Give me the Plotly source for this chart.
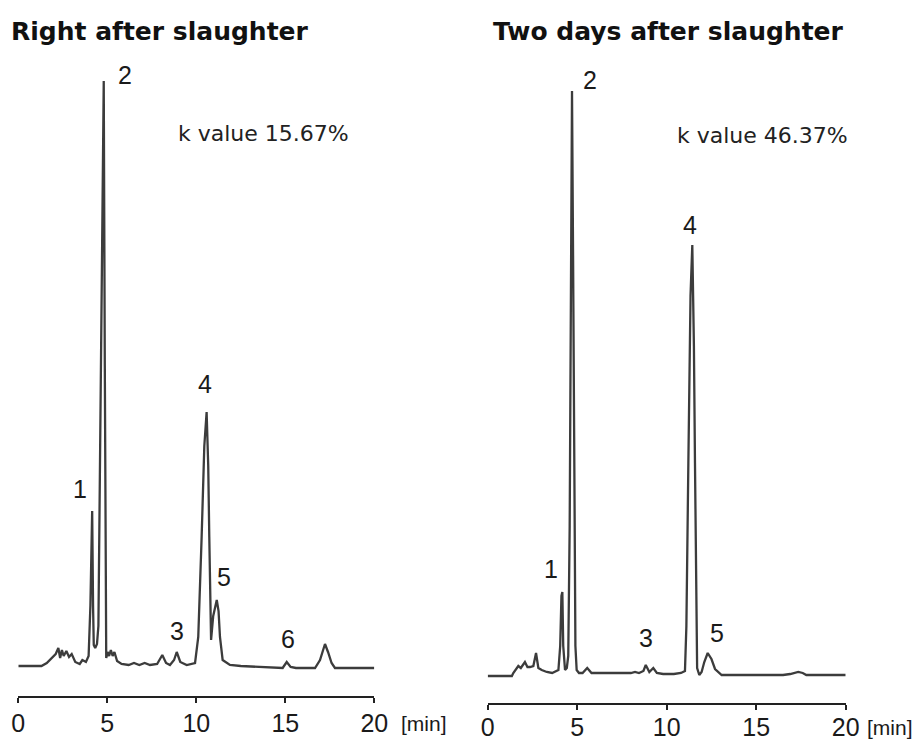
import plotly.graph_objects as go

W, H = 920, 740

# ---------------- data ----------------
# Left chromatogram: "Right after slaughter" (time in min, detector signal in arbitrary units)
left_time = [0.0, 1.3, 1.6, 1.9, 2.1, 2.25, 2.35, 2.45, 2.55, 2.7, 2.85, 3.0, 3.2, 3.45, 3.6, 3.8,
             3.95, 4.05, 4.12, 4.15, 4.2, 4.24, 4.32, 4.42, 4.5, 4.58, 4.68, 4.75, 4.8, 4.86, 4.9, 4.94,
             5.02, 5.1, 5.2, 5.3, 5.4, 5.55, 5.8, 6.2, 6.5, 6.8, 7.1, 7.4, 7.8, 8.09, 8.3, 8.52,
             8.75, 8.9, 9.1, 9.46, 9.93, 10.11, 10.3, 10.45, 10.58, 10.67, 10.73, 10.81, 10.83,
             10.95, 11.15, 11.25, 11.33, 11.48, 11.89, 12.5, 13.5, 14.5, 14.85, 15.08, 15.3, 15.6,
             16.67, 16.95, 17.1, 17.23, 17.4, 17.6, 17.79, 18.5, 20.0]
left_signal = [0, 0, 3, 8, 12, 18, 8, 16, 10, 15, 9, 12, 4, 2, 6, 4,
               10, 60, 140, 155, 60, 21, 18, 22, 40, 200, 420, 550, 585, 300, 40, 8,
               14, 10, 16, 10, 14, 5, 2, 1, 3, 1, 3, 1, 2, 11, 3, 1,
               6, 14, 4, 1, 3, 29, 129, 220, 254, 200, 129, 36, 26,
               50, 66, 55, 29, 6, 1, 0, -1, -2, -2, 4, -1, -2,
               -2, 6, 16, 22, 14, 3, -2, -2, -2]

# Right chromatogram: "Two days after slaughter"
right_time = [0.0, 1.35, 1.43, 1.55, 1.71, 1.85, 2.08, 2.22, 2.36, 2.55, 2.7, 2.83, 3.02, 3.3, 3.6,
              3.95, 4.05, 4.12, 4.17, 4.22, 4.32, 4.42, 4.5, 4.58, 4.65, 4.71, 4.77, 4.84, 4.9,
              4.97, 5.1, 5.3, 5.56, 5.8, 6.5, 7.5, 8.0, 8.23, 8.45, 8.7, 8.83, 9.03, 9.25, 9.45,
              9.8, 10.4, 10.8, 11.02, 11.1, 11.21, 11.33, 11.43, 11.52, 11.58, 11.65, 11.7,
              11.82, 11.95, 12.1, 12.29, 12.5, 12.7, 13.07, 14.5, 16.5, 16.9, 17.1, 17.35, 17.6,
              17.8, 18.5, 20.0]
right_signal = [0, 0, 3, 6, 10, 8, 14, 9, 9, 10, 23, 8, 6, 4, 3,
                6, 30, 80, 84, 30, 6, 8, 20, 150, 450, 585, 420, 150, 30,
                6, 3, 3, 8, 3, 3, 3, 3, 4, 3, 5, 11, 4, 8, 3,
                2, 2, 3, 5, 50, 213, 380, 431, 330, 213, 60, 8,
                1, 4, 14, 23, 17, 7, 1, 1, 1, 2, 3, 4, 3,
                1, 1, 1]

tick_vals = [0, 5, 10, 15, 20]
tick_text = ["0", "5", "10", "15", "20"]
left_peak_labels = ["1", "2", "3", "4", "5", "6"]
right_peak_labels = ["1", "2", "3", "4", "5"]
panel_titles = ["Right after slaughter", "Two days after slaughter"]
k_values = ["k value 15.67%", "k value 46.37%"]
time_unit = "[min]"

# ---------------- layout helpers (pixel geometry) ----------------
def px_x(x):
    return x / W


def px_y(y):
    return 1 - y / H


LINE = "#3c3c3c"
NUM_FONT = dict(family="Liberation Sans, Arial, sans-serif", size=25, color="#1a1a1a")

fig = go.Figure()
fig.add_trace(go.Scatter(x=left_time, y=left_signal, mode="lines",
                         line=dict(color=LINE, width=2.3), xaxis="x", yaxis="y",
                         showlegend=False, hoverinfo="skip"))
fig.add_trace(go.Scatter(x=right_time, y=right_signal, mode="lines",
                         line=dict(color=LINE, width=2.3), xaxis="x2", yaxis="y2",
                         showlegend=False, hoverinfo="skip"))

xaxis_common = dict(range=[0, 20], tickmode="array", tickvals=tick_vals, ticktext=tick_text,
                    showline=True, linecolor="#222222", linewidth=2, ticks="outside",
                    ticklen=5, tickwidth=1.5, tickcolor="#222222", showgrid=False,
                    zeroline=False, tickfont=NUM_FONT, automargin=False, fixedrange=True)
yaxis_common = dict(visible=False, showgrid=False, zeroline=False, automargin=False,
                    fixedrange=True)

# left panel: axis px 18.3 -> 374.3, bottom line at 696, baseline at 666, top at 60
fig.update_layout(
    xaxis=dict(domain=[px_x(18.3), px_x(374.3)], anchor="y", ticklabelstandoff=-1,
               **xaxis_common),
    yaxis=dict(domain=[px_y(696), px_y(60)], range=[-(696 - 666), 666 - 60], anchor="x",
               **yaxis_common),
    xaxis2=dict(domain=[px_x(487.7), px_x(845.7)], anchor="y2", ticklabelstandoff=-4,
                **xaxis_common),
    yaxis2=dict(domain=[px_y(703), px_y(60)], range=[-(703 - 676), 676 - 60], anchor="x2",
                **yaxis_common),
    width=W, height=H, margin=dict(l=0, r=0, t=0, b=0, autoexpand=False),
    paper_bgcolor="white", plot_bgcolor="white",
)

annotations = []
# titles
title_pos = [(9, 31), (491, 31)]
for text, (x, y) in zip(panel_titles, title_pos):
    annotations.append(dict(text=text, x=px_x(x), y=px_y(y), xref="paper", yref="paper",
                            xanchor="left", yanchor="middle", showarrow=False,
                            font=dict(family="DejaVu Sans, sans-serif", size=25,
                                      color="#111111", weight="bold")))
# k values
k_pos = [(263, 133), (762, 135)]
for text, (x, y) in zip(k_values, k_pos):
    annotations.append(dict(text=text, x=px_x(x), y=px_y(y), xref="paper", yref="paper",
                            xanchor="center", yanchor="middle", showarrow=False,
                            font=dict(family="DejaVu Sans, sans-serif", size=22,
                                      color="#222222")))
# peak labels
left_lab_pos = [(80, 489), (125, 75), (177, 631), (205, 384), (224, 577), (288, 639)]
right_lab_pos = [(551, 569), (590, 80), (646, 638), (690, 225), (717, 633)]
for labels, positions in ((left_peak_labels, left_lab_pos), (right_peak_labels, right_lab_pos)):
    for text, (x, y) in zip(labels, positions):
        annotations.append(dict(text=text, x=px_x(x), y=px_y(y), xref="paper", yref="paper",
                                xanchor="center", yanchor="middle", showarrow=False,
                                font=NUM_FONT))
# [min] unit labels
for (x, y) in [(424, 723), (890, 727)]:
    annotations.append(dict(text=time_unit, x=px_x(x), y=px_y(y), xref="paper", yref="paper",
                            xanchor="center", yanchor="middle", showarrow=False,
                            font=dict(family="Liberation Sans, Arial, sans-serif", size=21,
                                      color="#1a1a1a")))
fig.update_layout(annotations=annotations)

# the page's default 8px body margin would shift the 920x740 figure; remove it
fig.write_html("out.html", config={"displayModeBar": False},
               post_script="document.body.style.margin='0';"
                           "document.body.style.overflow='hidden';")
